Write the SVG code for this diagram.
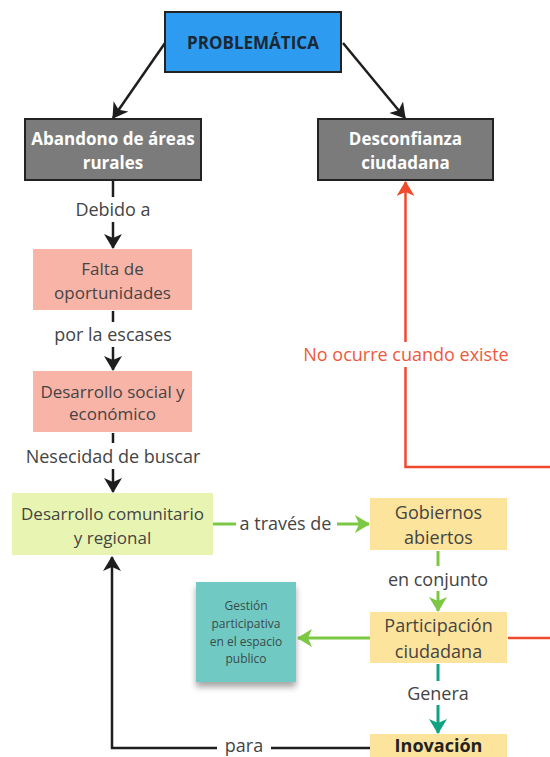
<svg xmlns="http://www.w3.org/2000/svg" width="550" height="757" viewBox="0 0 550 757">
<style>
text{font-family:"Open Sans","Noto Sans","DejaVu Sans",sans-serif;text-anchor:middle;dominant-baseline:central}
.lbl{font-size:18px;fill:#444}
.nt{font-size:17px;fill:#444}
.ny{font-size:18px;fill:#444}
.bw{font-size:17px;font-weight:700;fill:#fff}
.blk{fill:none;stroke:#1e1e1e;stroke-width:2.5}
.grn{fill:none;stroke:#7cc844;stroke-width:3}
.tea{fill:none;stroke:#0fa382;stroke-width:3}
.red{fill:none;stroke:#ef4a2c;stroke-width:2.5}
</style>
<defs>
<marker id="ab" viewBox="0 0 15 18" refX="14" refY="9" markerWidth="15" markerHeight="18" markerUnits="userSpaceOnUse" orient="auto"><path d="M0,0 L15,9 L0,18 L4,9 Z" fill="#1e1e1e"/></marker>
<marker id="ag" viewBox="0 0 15 18" refX="14" refY="9" markerWidth="15" markerHeight="18" markerUnits="userSpaceOnUse" orient="auto"><path d="M0,0 L15,9 L0,18 L4,9 Z" fill="#7cc844"/></marker>
<marker id="at" viewBox="0 0 15 18" refX="14" refY="9" markerWidth="15" markerHeight="18" markerUnits="userSpaceOnUse" orient="auto"><path d="M0,0 L15,9 L0,18 L4,9 Z" fill="#0fa382"/></marker>
<marker id="ar" viewBox="0 0 15 18" refX="14" refY="9" markerWidth="15" markerHeight="18" markerUnits="userSpaceOnUse" orient="auto"><path d="M0,0 L15,9 L0,18 L4,9 Z" fill="#ef4a2c"/></marker>
<filter id="sh" x="-20%" y="-20%" width="140%" height="150%"><feDropShadow dx="0" dy="5" stdDeviation="3" flood-color="#000" flood-opacity="0.35"/></filter>
</defs>

<g id="connectors">
<path class="blk" d="M165,43 L113,118" marker-end="url(#ab)"/>
<path class="blk" d="M343,43 L405,118" marker-end="url(#ab)"/>
<path class="blk" d="M113,181 V197"/>
<text class="lbl" x="113" y="209">Debido a</text>
<path class="blk" d="M113,222 V248" marker-end="url(#ab)"/>
<path class="blk" d="M113,311 V322"/>
<text class="lbl" x="113" y="334">por la escases</text>
<path class="blk" d="M113,347 V370" marker-end="url(#ab)"/>
<path class="blk" d="M113,433 V443"/>
<text class="lbl" x="113" y="456">Nesecidad de buscar</text>
<path class="blk" d="M113,469 V492" marker-end="url(#ab)"/>
<path class="grn" d="M213,524 H236"/>
<text class="lbl" x="285.5" y="523">a través de</text>
<path class="grn" d="M337,524 H369" marker-end="url(#ag)"/>
<path class="grn" d="M438,551 V566"/>
<text class="lbl" x="438" y="579">en conjunto</text>
<path class="grn" d="M438,591 V611" marker-end="url(#ag)"/>
<path class="grn" d="M370,638 H298" marker-end="url(#ag)"/>
<path class="tea" d="M438,664 V681"/>
<text class="lbl" x="438" y="693">Genera</text>
<path class="tea" d="M438,705 V733" marker-end="url(#at)"/>
<path class="blk" d="M370,748 H271"/>
<text class="lbl" x="244" y="745">para</text>
<path class="blk" d="M217,748 H112 V557" marker-end="url(#ab)"/>
<path class="red" d="M508,638 H560 V467 H405.5 V367"/>
<path class="red" d="M405.5,342 V182" marker-end="url(#ar)"/>
<text x="406" y="354" style="font-size:18px;fill:#ec5a3c">No ocurre cuando existe</text>
</g>

<g id="problematica">
<rect x="165" y="12" width="176" height="60" fill="#2d9cf0" stroke="#222" stroke-width="2"/>
<text x="253" y="42" style="font-size:17px;font-weight:700;fill:#1b2733">PROBLEMÁTICA</text>
</g>
<g id="abandono">
<rect x="25" y="119" width="176" height="61" fill="#7b7b7b" stroke="#222" stroke-width="2"/>
<text class="bw" x="113" y="138">Abandono de áreas</text>
<text class="bw" x="113" y="162">rurales</text>
</g>
<g id="desconfianza">
<rect x="318" y="119" width="175" height="61" fill="#7b7b7b" stroke="#222" stroke-width="2"/>
<text class="bw" x="405.5" y="138">Desconfianza</text>
<text class="bw" x="405.5" y="162">ciudadana</text>
</g>
<g id="falta">
<rect x="33" y="249" width="159" height="61" fill="#f9b4a8"/>
<text class="nt" x="112.5" y="268">Falta de</text>
<text class="nt" x="112.5" y="292">oportunidades</text>
</g>
<g id="desarrollo-social">
<rect x="33" y="371" width="159" height="61" fill="#f9b4a8"/>
<text class="nt" x="112.5" y="391">Desarrollo social y</text>
<text class="nt" x="112.5" y="413">económico</text>
</g>
<g id="desarrollo-comunitario">
<rect x="12" y="493" width="201" height="62" fill="#e8f5b2"/>
<text class="nt" x="112.5" y="513">Desarrollo comunitario</text>
<text class="nt" x="112.5" y="537">y regional</text>
</g>
<g id="gobiernos">
<rect x="370" y="498" width="137" height="52" fill="#fde49c"/>
<text class="ny" x="438.5" y="512">Gobiernos</text>
<text class="ny" x="438.5" y="537">abiertos</text>
</g>
<g id="participacion">
<rect x="370" y="612" width="137" height="51" fill="#fde49c"/>
<text class="ny" x="438.5" y="625">Participación</text>
<text class="ny" x="438.5" y="651">ciudadana</text>
</g>
<g id="gestion">
<rect x="196" y="582" width="100" height="100" fill="#6fcac3" filter="url(#sh)"/>
<text x="246" y="605" style="font-size:12px;fill:#3a4a48">Gestión</text>
<text x="246" y="623" style="font-size:12px;fill:#3a4a48">participativa</text>
<text x="246" y="641" style="font-size:12px;fill:#3a4a48">en el espacio</text>
<text x="246" y="658" style="font-size:12px;fill:#3a4a48">publico</text>
</g>
<g id="inovacion">
<rect x="370" y="734" width="137" height="30" fill="#fde49c"/>
<text x="438.5" y="745" style="font-size:18px;font-weight:700;fill:#222">Inovación</text>
</g>
</svg>
